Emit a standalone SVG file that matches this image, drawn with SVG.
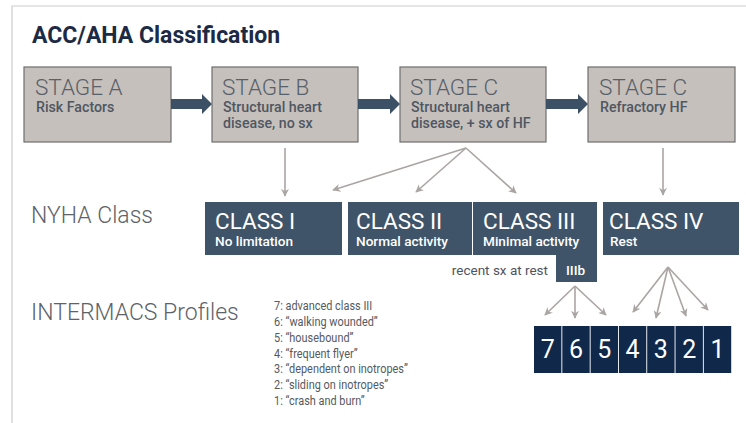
<svg xmlns="http://www.w3.org/2000/svg" width="746" height="423" viewBox="0 0 746 423">
<defs>
<style>
.stage{fill:#c6c0bc;stroke:#6e6e6e;stroke-width:1.2}
.sh{font-family:Roboto,"Liberation Sans",sans-serif;font-size:22.5px;font-weight:300;fill:#58606a}
.ss{font-family:Roboto,"Liberation Sans",sans-serif;font-size:14.2px;font-weight:500;fill:#4f5762}
.cls{fill:#3f5468}
.ch{font-family:Roboto,"Liberation Sans",sans-serif;font-size:22.5px;font-weight:400;fill:#ffffff}
.cs{font-family:Roboto,"Liberation Sans",sans-serif;font-size:13.6px;font-weight:500;fill:#ffffff}
.lab{font-family:Roboto,"Liberation Sans",sans-serif;font-size:23px;font-weight:300;fill:#5e6369}
.li{font-family:Roboto,"Liberation Sans",sans-serif;font-size:13px;fill:#555a60}
.num{fill:#10294b}
.nt{font-family:Roboto,"Liberation Sans",sans-serif;font-size:25px;fill:#ffffff;text-anchor:middle}
.thin{stroke:#aaa5a3;stroke-width:1.6;fill:none;marker-end:url(#ah)}
.thick{fill:#3d5166}
</style>
<marker id="ah" viewBox="0 0 10 10" refX="9" refY="5" markerWidth="8" markerHeight="8" markerUnits="userSpaceOnUse" orient="auto">
<path d="M0,0 L10,5 L0,10 L3,5 Z" fill="#aaa5a3"/>
</marker>
</defs>
<rect width="746" height="423" fill="#ffffff"/>
<path d="M12,423 L12,6 L746,6" fill="none" stroke="#cccccc" stroke-width="1.2"/>
<text x="32" y="43" font-family="Roboto,'Liberation Sans',sans-serif" font-size="23" font-weight="700" fill="#1c2a44">ACC/AHA Classification</text>

<g id="stageA">
<rect class="stage" x="24" y="67" width="147" height="75"/>
<text class="sh" x="35" y="95">STAGE A</text>
<text class="ss" x="36" y="112">Risk Factors</text>
</g>
<g id="stageB">
<rect class="stage" x="212" y="67" width="146" height="75"/>
<text class="sh" x="222" y="95">STAGE B</text>
<text class="ss" x="223" y="112">Structural heart</text>
<text class="ss" x="223" y="128">disease, no sx</text>
</g>
<g id="stageC">
<rect class="stage" x="400" y="67" width="146" height="75"/>
<text class="sh" x="410" y="95">STAGE C</text>
<text class="ss" x="411" y="112">Structural heart</text>
<text class="ss" x="411" y="128">disease, + sx of HF</text>
</g>
<g id="stageCr">
<rect class="stage" x="588" y="67" width="147" height="75"/>
<text class="sh" x="599" y="95">STAGE C</text>
<text class="ss" x="600" y="112">Refractory HF</text>
</g>

<g id="labels">
<text class="lab" x="31" y="223">NYHA Class</text>
<text class="lab" x="31" y="320">INTERMACS Profiles</text>
</g>

<g id="class1">
<rect class="cls" x="205" y="202" width="137" height="53"/>
<text class="ch" x="215" y="229">CLASS I</text>
<text class="cs" x="215" y="246">No limitation</text>
</g>
<g id="class2">
<rect class="cls" x="348" y="202" width="124" height="53"/>
<text class="ch" x="356" y="229">CLASS II</text>
<text class="cs" x="356" y="246">Normal activity</text>
</g>
<g id="class3">
<rect class="cls" x="473" y="202" width="124" height="53"/>
<rect class="cls" x="556" y="254" width="41" height="28"/>
<text class="ch" x="483" y="229">CLASS III</text>
<text class="cs" x="483" y="246">Minimal activity</text>
<text class="cs" x="566" y="275">IIIb</text>
<text x="548" y="275" text-anchor="end" font-family="Roboto,'Liberation Sans',sans-serif" font-size="13.5" fill="#4f5460">recent sx at rest</text>
</g>
<g id="class4">
<rect class="cls" x="603" y="202" width="136" height="53"/>
<text class="ch" x="609" y="229">CLASS IV</text>
<text class="cs" x="610" y="246">Rest</text>
</g>

<g id="profileList" transform="translate(274,0) scale(0.84,1)">
<text class="li" x="0" y="310">7: advanced class III</text>
<text class="li" x="0" y="326">6: “walking wounded”</text>
<text class="li" x="0" y="342">5: “housebound”</text>
<text class="li" x="0" y="358">4: “frequent flyer”</text>
<text class="li" x="0" y="373">3: “dependent on inotropes”</text>
<text class="li" x="0" y="389">2: “sliding on inotropes”</text>
<text class="li" x="0" y="405">1: “crash and burn”</text>
</g>

<g id="profiles">
<rect class="num" x="534" y="326" width="27.4" height="47"/>
<rect class="num" x="562.3" y="326" width="27.4" height="47"/>
<rect class="num" x="590.6" y="326" width="27.4" height="47"/>
<rect class="num" x="618.9" y="326" width="27.4" height="47"/>
<rect class="num" x="647.2" y="326" width="27.4" height="47"/>
<rect class="num" x="675.5" y="326" width="27.4" height="47"/>
<rect class="num" x="703.8" y="326" width="27.4" height="47"/>
<text class="nt" x="547.7" y="358">7</text>
<text class="nt" x="576" y="358">6</text>
<text class="nt" x="604.3" y="358">5</text>
<text class="nt" x="632.6" y="358">4</text>
<text class="nt" x="660.9" y="358">3</text>
<text class="nt" x="689.2" y="358">2</text>
<text class="nt" x="717.5" y="358">1</text>
</g>

<g id="connectors">
<path class="thick" d="M171,99 L202,99 L202,94 L212,104 L202,114 L202,109 L171,109 Z"/>
<path class="thick" d="M358,99 L390,99 L390,94 L400,104 L390,114 L390,109 L358,109 Z"/>
<path class="thick" d="M546,99 L578,99 L578,94 L588,104 L578,114 L578,109 L546,109 Z"/>
<line class="thin" x1="285" y1="148" x2="285" y2="196"/>
<line class="thin" x1="466" y1="148" x2="333" y2="190"/>
<line class="thin" x1="466" y1="148" x2="416" y2="192"/>
<line class="thin" x1="466" y1="148" x2="516" y2="193"/>
<line class="thin" x1="663" y1="148" x2="663" y2="195"/>
<line class="thin" x1="575" y1="286" x2="545" y2="315"/>
<line class="thin" x1="575" y1="286" x2="575" y2="318"/>
<line class="thin" x1="575" y1="286" x2="606" y2="315"/>
<line class="thin" x1="668" y1="267" x2="633" y2="312"/>
<line class="thin" x1="668" y1="267" x2="656" y2="318"/>
<line class="thin" x1="668" y1="267" x2="686" y2="316"/>
<line class="thin" x1="668" y1="267" x2="708" y2="310"/>
</g>
</svg>
